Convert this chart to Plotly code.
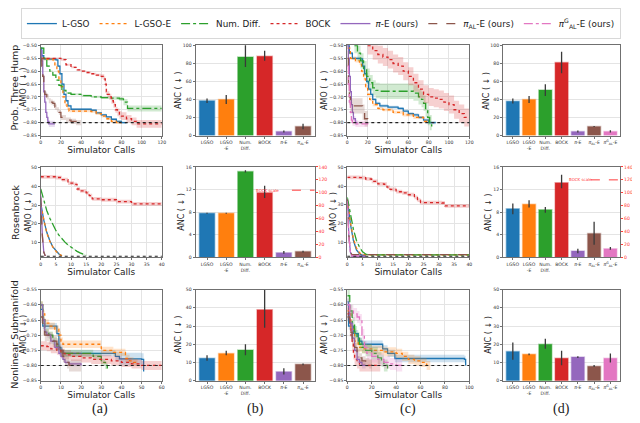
import plotly.graph_objects as go

# ---------------- curves: (simulator calls, mean AMO, spread) ----------------
# Prob. Three Hump, column (a)
TH_A_LGSO = ([0, 1, 3, 15, 17, 19, 21, 23, 25, 27, 30, 50, 55, 60, 65, 70, 75, 80, 85],
             [-0.51, -0.54, -0.553, -0.556, -0.58, -0.61, -0.65, -0.69, -0.715, -0.735, -0.748,
              -0.752, -0.762, -0.77, -0.778, -0.787, -0.795, -0.80, -0.80], 0.004)
TH_A_LGSOE = ([0, 2, 12, 14, 16, 18, 20, 22, 24, 26, 28, 50, 55, 60, 65, 70, 75, 80],
              [-0.55, -0.553, -0.556, -0.575, -0.60, -0.63, -0.66, -0.70, -0.73, -0.745, -0.755,
               -0.757, -0.765, -0.775, -0.785, -0.795, -0.80, -0.80], 0.005)
TH_A_NUM = ([0, 3, 6, 9, 12, 15, 18, 21, 25, 30, 40, 50, 60, 70, 78, 82, 86, 120],
            [-0.51, -0.55, -0.58, -0.60, -0.615, -0.635, -0.655, -0.675, -0.685, -0.69, -0.695,
             -0.70, -0.703, -0.705, -0.708, -0.72, -0.745, -0.745],
            [0.003, 0.003, 0.003, 0.003, 0.003, 0.003, 0.004, 0.004, 0.004, 0.004, 0.004, 0.004,
             0.005, 0.006, 0.008, 0.012, 0.012, 0.012])
TH_A_BOCK = ([0, 20, 25, 30, 35, 40, 45, 50, 55, 60, 63, 64, 65, 66, 68, 70, 72, 74, 76, 78, 80,
              85, 90, 95, 120],
             [-0.55, -0.555, -0.575, -0.585, -0.595, -0.60, -0.605, -0.61, -0.615, -0.62, -0.63,
              -0.65, -0.68, -0.69, -0.70, -0.715, -0.73, -0.75, -0.76, -0.77, -0.775, -0.785,
              -0.795, -0.805, -0.805],
             [0.003, 0.004, 0.004, 0.004, 0.004, 0.004, 0.004, 0.004, 0.005, 0.008, 0.01, 0.012,
              0.012, 0.012, 0.012, 0.012, 0.012, 0.012, 0.015, 0.015, 0.015, 0.015, 0.015, 0.015,
              0.015])
TH_A_PIE = ([0, 1, 2, 3, 4, 5, 6, 7, 8, 14],
            [-0.52, -0.56, -0.62, -0.68, -0.72, -0.76, -0.78, -0.795, -0.805, -0.805],
            [0.003, 0.005, 0.008, 0.01, 0.01, 0.01, 0.01, 0.012, 0.012, 0.012])
TH_A_PIAL = ([0, 1, 2, 3, 4, 6, 8, 10, 12, 14, 16, 18, 20, 25, 30, 35, 40],
             [-0.55, -0.58, -0.62, -0.66, -0.69, -0.70, -0.715, -0.72, -0.725, -0.74, -0.75,
              -0.76, -0.78, -0.79, -0.795, -0.80, -0.80], 0.01)

# Prob. Three Hump, column (c)
TH_C_LGSO = ([0, 2, 5, 13, 15, 17, 19, 21, 23, 25, 28, 32, 40, 50, 55, 60, 65, 70, 75, 80, 87],
             [-0.50, -0.53, -0.55, -0.552, -0.58, -0.61, -0.64, -0.67, -0.69, -0.71, -0.725,
              -0.735, -0.74, -0.745, -0.755, -0.765, -0.77, -0.78, -0.79, -0.80, -0.80], 0.006)
TH_C_LGSOE = ([0, 3, 8, 12, 14, 16, 18, 20, 22, 25, 30, 35, 45, 55, 65, 75, 80],
              [-0.51, -0.55, -0.56, -0.57, -0.60, -0.63, -0.66, -0.69, -0.71, -0.73, -0.745,
               -0.75, -0.76, -0.77, -0.78, -0.795, -0.80], 0.006)
TH_C_NUM = ([7, 10, 13, 16, 19, 22, 25, 28, 32, 60, 65, 70, 73, 75, 77, 79, 81, 83],
            [-0.50, -0.53, -0.56, -0.59, -0.62, -0.645, -0.665, -0.675, -0.678, -0.678, -0.685,
             -0.70, -0.71, -0.725, -0.75, -0.78, -0.80, -0.815], 0.03)
TH_C_BOCK = ([20, 25, 30, 35, 40, 45, 50, 55, 60, 65, 70, 75, 80, 85, 90, 95, 100, 105, 110, 115,
              120],
             [-0.50, -0.52, -0.535, -0.545, -0.555, -0.57, -0.58, -0.60, -0.62, -0.645, -0.67,
              -0.69, -0.70, -0.705, -0.71, -0.72, -0.73, -0.75, -0.765, -0.78, -0.78], 0.035)
TH_C_PIE = ([0, 1, 2, 3, 4, 5, 6, 8, 10],
            [-0.50, -0.55, -0.62, -0.68, -0.73, -0.76, -0.785, -0.80, -0.80], 0.01)
TH_C_PIAL = ([0, 1, 2, 3, 13, 15, 17, 20],
             [-0.55, -0.65, -0.70, -0.735, -0.735, -0.76, -0.785, -0.80], 0.03)
TH_C_PIALG = ([0, 1, 2, 3, 4, 5, 8, 10, 15, 20],
              [-0.58, -0.65, -0.72, -0.76, -0.79, -0.80, -0.805, -0.805, -0.805, -0.80], 0.012)

# Rosenbrock, column (a)
RB_A_LGSO = ([0, 1, 2, 3, 4, 5, 6, 7], [31, 22, 15.5, 11, 7.8, 5.6, 4, 3.1], 0.3)
RB_A_LGSOE = ([0, 1, 2, 3, 4, 5, 6, 7], [30, 21.5, 15, 10.8, 7.6, 5.5, 4, 3.1], 0.3)
RB_A_NUM = (list(range(16)),
            [38.5, 32, 27, 23, 19.5, 16.5, 14, 12, 10.3, 8.8, 7.5, 6.4, 5.4, 4.6, 3.8, 3.2], 0.3)
RB_A_BOCK = ([0, 5, 7, 9, 11, 12, 13, 15, 16, 17, 20, 25, 30, 40],
             [45, 44.6, 43.5, 41.6, 41, 38.5, 37.5, 36.5, 35, 33.3, 32.8, 31.8, 30.6, 30.4], 1.0)
RB_A_PIE = ([0, 0.5, 1, 1.5], [35, 15, 5, 3], 0.2)
RB_A_PIAL = ([0, 0.5, 1, 1.5], [34, 14, 5, 3], 0.2)

# Rosenbrock, column (c)
RB_C_LGSO = ([0, 1, 2, 3, 4, 5, 6], [33, 20, 11, 6, 4, 3, 3], 0.3)
RB_C_LGSOE = ([0, 1, 2, 3, 4, 5, 40], [33, 21, 12, 7, 4.5, 3.4, 3.4], 0.3)
RB_C_NUM = ([0, 1, 2, 3, 4, 5, 6, 7, 40], [34, 25, 17, 11, 7.5, 5, 3.8, 3.3, 3.3], 0.3)
RB_C_BOCK = ([0, 4, 6, 8, 10, 12, 13, 14, 16, 18, 20, 22, 23, 24, 31, 32, 40],
             [44.7, 44.5, 43.8, 42.5, 41.2, 41, 39.5, 38.3, 37, 36.4, 35.4, 34, 32.5, 31.2, 31,
              29.5, 29.5], 1.0)
RB_C_PIE = ([0, 0.5, 1, 1.5, 6], [33, 14, 5, 2.6, 2.6], 0.2)
RB_C_PIAL = ([0, 0.5, 1, 1.5, 40], [33, 14, 5, 3.5, 3.5], 0.2)
RB_C_PIALG = ([0, 0.5, 1, 1.5, 5], [32, 13, 5, 2.8, 2.8], 0.2)

# Nonlinear Submanifold, column (a)
NS_A_LGSO = ([0, 1, 8, 9, 10, 11, 36, 37, 39, 50, 51],
             [-0.615, -0.67, -0.695, -0.74, -0.75, -0.76, -0.76, -0.77, -0.778, -0.78, -0.82],
             [0.005, 0.01, 0.01, 0.01, 0.01, 0.01, 0.01, 0.015, 0.02, 0.02, 0.02])
NS_A_LGSOE = ([0, 1, 2, 4, 7, 9, 10, 11, 28, 30, 36, 42, 44, 46, 48],
              [-0.60, -0.63, -0.66, -0.67, -0.68, -0.70, -0.72, -0.73, -0.73, -0.75, -0.757,
               -0.777, -0.785, -0.79, -0.795], 0.012)
NS_A_NUM = ([0, 1, 2, 4, 6, 8, 9, 10, 25, 26, 30, 32, 33],
            [-0.60, -0.65, -0.69, -0.70, -0.72, -0.74, -0.75, -0.76, -0.76, -0.77, -0.79, -0.80,
             -0.81], 0.012)
NS_A_BOCK = ([0, 3, 5, 8, 10, 12, 15, 20, 25, 30, 35, 40, 45, 50, 60],
             [-0.735, -0.738, -0.745, -0.75, -0.76, -0.765, -0.77, -0.775, -0.78, -0.78, -0.785,
              -0.79, -0.795, -0.80, -0.80], 0.015)
NS_A_PIE = ([0, 1, 2, 3, 5, 7, 9, 10, 11, 12, 14, 20],
            [-0.60, -0.65, -0.69, -0.70, -0.72, -0.74, -0.76, -0.77, -0.78, -0.79, -0.795, -0.80],
            0.008)
NS_A_PIAL = ([0, 1, 2, 4, 6, 8, 10, 11, 12, 13, 14, 20],
             [-0.64, -0.68, -0.70, -0.71, -0.72, -0.73, -0.75, -0.77, -0.78, -0.79, -0.80, -0.80],
             0.02)

# Nonlinear Submanifold, column (c)
NS_C_LGSO = ([0, 1, 5, 9, 12, 27, 29, 33, 39, 96, 97],
             [-0.59, -0.67, -0.695, -0.72, -0.73, -0.73, -0.745, -0.76, -0.777, -0.78, -0.80],
             0.012)
NS_C_LGSOE = ([0, 3, 6, 9, 12, 20, 30, 40, 45, 50, 55, 60, 65, 68],
              [-0.62, -0.68, -0.72, -0.74, -0.745, -0.75, -0.755, -0.76, -0.77, -0.78, -0.785,
               -0.79, -0.80, -0.80], 0.015)
NS_C_NUM = ([0, 2, 4, 6, 8, 10, 12, 15, 20, 25, 28, 30, 33],
            [-0.57, -0.62, -0.66, -0.69, -0.71, -0.73, -0.74, -0.75, -0.76, -0.775, -0.785, -0.80,
             -0.81], 0.02)
NS_C_BOCK = ([0, 2, 3, 4, 5, 6, 8, 10, 15, 20, 27],
             [-0.63, -0.66, -0.70, -0.73, -0.76, -0.78, -0.79, -0.80, -0.80, -0.80, -0.80], 0.02)
NS_C_PIE = ([0, 2, 4, 6, 8, 10, 12, 15],
            [-0.60, -0.66, -0.71, -0.75, -0.78, -0.79, -0.80, -0.80], 0.01)
NS_C_PIAL = ([0, 2, 4, 6, 8, 10, 12, 15, 18, 20],
             [-0.64, -0.69, -0.72, -0.74, -0.76, -0.775, -0.785, -0.79, -0.795, -0.80], 0.015)
NS_C_PIALG = ([0, 2, 5, 8, 10, 12, 14, 16, 20, 25, 30, 35, 40, 45],
              [-0.60, -0.62, -0.63, -0.64, -0.65, -0.70, -0.74, -0.76, -0.77, -0.78, -0.79,
               -0.795, -0.80, -0.80], 0.02)

# optimum levels (black dotted reference lines)
OPT_TH = -0.80
OPT_RB_A = 2.8
OPT_RB_C = 2.6
OPT_NS = -0.80

# ---------------- ANC bars: mean, lower, upper ----------------
BAR_KEYS_6 = ["lgso", "lgsoe", "num", "bock", "pie", "pial"]
BAR_KEYS_7 = BAR_KEYS_6 + ["pialg"]
BAR_LABELS_6 = ["LGSO", "LGSO<br>-E", "Num.<br>Diff.", "BOCK", "<i>π</i>-E", "<i>π</i><sub>AL</sub>-E"]
BAR_LABELS_7 = BAR_LABELS_6 + ["<i>π</i><sup>G</sup><sub>AL</sub>-E"]

TH_B_ANC = [38.5, 40, 87, 88, 4.5, 10]
TH_B_LO = [36, 35, 76, 83, 3.5, 7]
TH_B_HI = [41, 45, 101, 94, 5.5, 13]
TH_D_ANC = [38, 40, 50.5, 81, 4.5, 10, 4.5]
TH_D_LO = [35.5, 36, 44, 69, 3.5, 9.5, 3.3]
TH_D_HI = [41, 44, 57, 93, 5.5, 10.5, 5.8]
# Rosenbrock: BOCK is given on its own (right, red) scale
RB_B_ANC = [7.8, 7.8, 15.2, 100.0, 0.8, 1.0]
RB_B_LO = [7.7, 7.7, 15.0, 92, 0.6, 0.85]
RB_B_HI = [7.9, 7.9, 15.4, 111, 1.1, 1.15]
RB_D_ANC = [8.6, 9.4, 8.4, 115.5, 1.1, 4.2, 1.5]
RB_D_LO = [7.6, 8.8, 7.9, 107, 0.7, 2.2, 1.3]
RB_D_HI = [9.5, 10.1, 8.9, 128, 1.5, 6.3, 1.8]
RB_BOCK_SCALE = [104, 120]
NS_B_ANC = [12.3, 15, 16.8, 39, 5, 9]
NS_B_LO = [11, 14, 14, 29, 3.5, 8.5]
NS_B_HI = [14, 16.5, 20, 50, 6.8, 9.5]
NS_D_ANC = [16, 14.5, 20, 12.3, 13, 8, 12.3]
NS_D_LO = [11.5, 14, 17.5, 8.5, 12.5, 7.5, 10]
NS_D_HI = [21, 15, 23, 16.5, 13.5, 8.6, 15]

METHODS = {
    "lgso": ("L-GSO", "#1f77b4", "solid"),
    "lgsoe": ("L-GSO-E", "#ff7f0e", "dot"),
    "num": ("Num. Diff.", "#2ca02c", "dashdot"),
    "bock": ("BOCK", "#d62728", "dot"),
    "pie": ("<i>π</i>-E (ours)", "#9467bd", "solid"),
    "pial": ("<i>π</i><sub>AL</sub>-E (ours)", "#8c564b", "dash"),
    "pialg": ("<i>π</i><sup>G</sup><sub>AL</sub>-E (ours)", "#e377c2", "dashdot"),
}

# the page puts the figure 8px in from the window's corner
OFF = 8
W, H = 640 - OFF, 423 - OFF
COL_PX = [(40, 162), (196, 316), (349, 472), (506, 624)]
ROW_PX = [(41, 133), (165, 257), (290, 383)]
FONT = "DejaVu Sans"
TICK = 4.6
SEEN = set()


def fx(px):
    return (px - OFF) / W


def fy(py):
    return 1 - (py - OFF) / H


def sfx(n):
    return "" if n == 1 else str(n)


def rgba(hexcol, a):
    h = hexcol.lstrip("#")
    return "rgba(%d,%d,%d,%.2f)" % (int(h[0:2], 16), int(h[2:4], 16), int(h[4:6], 16), a)


def add_curve(fig, n, key, curve, shape="hv"):
    name, color, dash = METHODS[key]
    xs, ys, sd = curve
    sds = sd if isinstance(sd, list) else [sd] * len(xs)
    ax = dict(xaxis="x" + sfx(n), yaxis="y" + sfx(n), hoverinfo="skip")
    fig.add_trace(go.Scatter(x=xs, y=[y + s for y, s in zip(ys, sds)], mode="lines",
                             line=dict(width=0, shape=shape), showlegend=False, **ax))
    fig.add_trace(go.Scatter(x=xs, y=[y - s for y, s in zip(ys, sds)], mode="lines",
                             line=dict(width=0, shape=shape), fill="tonexty",
                             fillcolor=rgba(color, 0.22), showlegend=False, **ax))
    show = key not in SEEN
    SEEN.add(key)
    fig.add_trace(go.Scatter(x=xs, y=ys, mode="lines", name=name, showlegend=show,
                             line=dict(color=color, width=1.3, dash=dash, shape=shape), **ax))


def add_bars(fig, n, keys, vals, lo, hi, right=None):
    for j, key in enumerate(keys):
        color = METHODS[key][1]
        yax = f"y{right}" if (right and key == "bock") else "y" + sfx(n)
        fig.add_trace(go.Bar(
            x=[j], y=[vals[j]], width=0.8, xaxis="x" + sfx(n), yaxis=yax, showlegend=False,
            marker=dict(color=color, line=dict(color=rgba(color, 0.35), width=1.5)),
            error_y=dict(type="data", symmetric=False, array=[hi[j] - vals[j]],
                         arrayminus=[vals[j] - lo[j]], color="#3a3a3a", thickness=1.3, width=0)))


def opt_line(fig, n, level):
    fig.add_shape(type="line", xref="x" + sfx(n) + " domain", x0=0, x1=1, yref="y" + sfx(n),
                  y0=level, y1=level, line=dict(color="#222", width=1.1, dash="dot"))


fig = go.Figure()

# row 1: Prob. Three Hump
for key, c in zip(["lgso", "lgsoe", "num", "bock", "pie", "pial"],
                  [TH_A_LGSO, TH_A_LGSOE, TH_A_NUM, TH_A_BOCK, TH_A_PIE, TH_A_PIAL]):
    add_curve(fig, 1, key, c)
opt_line(fig, 1, OPT_TH)
add_bars(fig, 2, BAR_KEYS_6, TH_B_ANC, TH_B_LO, TH_B_HI)
for key, c in zip(BAR_KEYS_7, [TH_C_LGSO, TH_C_LGSOE, TH_C_NUM, TH_C_BOCK, TH_C_PIE, TH_C_PIAL,
                               TH_C_PIALG]):
    add_curve(fig, 3, key, c)
opt_line(fig, 3, OPT_TH)
add_bars(fig, 4, BAR_KEYS_7, TH_D_ANC, TH_D_LO, TH_D_HI)

# row 2: Rosenbrock
for key, c in zip(["lgso", "lgsoe", "num", "bock", "pie", "pial"],
                  [RB_A_LGSO, RB_A_LGSOE, RB_A_NUM, RB_A_BOCK, RB_A_PIE, RB_A_PIAL]):
    add_curve(fig, 5, key, c, "hv" if key == "bock" else "linear")
opt_line(fig, 5, OPT_RB_A)
add_bars(fig, 6, BAR_KEYS_6, RB_B_ANC, RB_B_LO, RB_B_HI, right=13)
for key, c in zip(BAR_KEYS_7, [RB_C_LGSO, RB_C_LGSOE, RB_C_NUM, RB_C_BOCK, RB_C_PIE, RB_C_PIAL,
                               RB_C_PIALG]):
    add_curve(fig, 7, key, c, "hv" if key == "bock" else "linear")
opt_line(fig, 7, OPT_RB_C)
add_bars(fig, 8, BAR_KEYS_7, RB_D_ANC, RB_D_LO, RB_D_HI, right=14)

# row 3: Nonlinear Submanifold
for key, c in zip(["lgso", "lgsoe", "num", "bock", "pie", "pial"],
                  [NS_A_LGSO, NS_A_LGSOE, NS_A_NUM, NS_A_BOCK, NS_A_PIE, NS_A_PIAL]):
    add_curve(fig, 9, key, c)
opt_line(fig, 9, OPT_NS)
add_bars(fig, 10, BAR_KEYS_6, NS_B_ANC, NS_B_LO, NS_B_HI)
for key, c in zip(BAR_KEYS_7, [NS_C_LGSO, NS_C_LGSOE, NS_C_NUM, NS_C_BOCK, NS_C_PIE, NS_C_PIAL,
                               NS_C_PIALG]):
    add_curve(fig, 11, key, c)
opt_line(fig, 11, OPT_NS)
add_bars(fig, 12, BAR_KEYS_7, NS_D_ANC, NS_D_LO, NS_D_HI)

# ---------------- axes ----------------
base = dict(showline=True, mirror=True, linecolor="#707070", linewidth=1, gridcolor="#e4e4e4",
            zeroline=False, ticks="outside", ticklen=2, tickcolor="#707070", tickangle=0,
            tickfont=dict(family=FONT, size=TICK, color="#333"))
line_x = {1: (0, 120, 20), 3: (0, 120, 20), 5: (0, 40, 5), 7: (0, 40, 5), 9: (0, 60, 10),
          11: (0, 100, 20)}
line_y = {1: [-0.8505, -0.4995], 3: [-0.8505, -0.4995], 5: [2.3, 50.2], 7: [2.1, 50.2],
          9: [-0.8505, -0.5495], 11: [-0.8505, -0.5495]}
bar_y = {2: (100, 20), 4: (100, 20), 6: (16, 4), 8: (16, 4), 10: (50, 10), 12: (50, 10)}

layout = {}
for r, (top, bot) in enumerate(ROW_PX):
    for c, (left, rgt) in enumerate(COL_PX):
        n = r * 4 + c + 1
        xa = dict(base, domain=[fx(left), fx(rgt)], anchor="y" + sfx(n))
        ya = dict(base, domain=[fy(bot), fy(top)], anchor="x" + sfx(n))
        if n in line_x:
            x0, x1, dt = line_x[n]
            xa.update(range=[x0, x1 + 0.001], dtick=dt, tick0=0,
                      title=dict(text="Simulator Calls", standoff=1,
                                 font=dict(family=FONT, size=9, color="#222")))
            ya.update(range=line_y[n])
            if n in (5, 7):
                ya.update(tickvals=[10, 20, 30, 40, 50])
            else:
                ya.update(dtick=0.05, tick0=-0.85, tickformat=".2f")
        else:
            nb = 6 if c == 1 else 7
            xa.update(range=[-0.6, nb - 0.4], tickvals=list(range(nb)),
                      ticktext=BAR_LABELS_6 if nb == 6 else BAR_LABELS_7, showgrid=False)
            top_v, dt = bar_y[n]
            ya.update(range=[0, top_v], dtick=dt)
        layout["xaxis" + sfx(n)] = xa
        layout["yaxis" + sfx(n)] = ya

for n, sec in ((6, 13), (8, 14)):
    layout[f"yaxis{sec}"] = dict(overlaying=f"y{n}", anchor=f"x{n}", side="right",
                                 range=[0, 140], dtick=20, showgrid=False, zeroline=False,
                                 showline=False, ticks="outside", ticklen=2, tickcolor="#ff3b3b",
                                 tickfont=dict(family=FONT, size=TICK, color="#ff3b3b"))

fig.update_layout(**layout)

# BOCK scale markers on the Rosenbrock ANC panels
for n, sec, tx, lx, lvl in ((6, 13, 0.72, 0.81, RB_BOCK_SCALE[0]),
                            (8, 14, 0.66, 0.75, RB_BOCK_SCALE[1])):
    fig.add_annotation(xref=f"x{n} domain", yref=f"y{sec}", x=tx, y=lvl, text="BOCK scale",
                       showarrow=False, font=dict(family=FONT, size=4, color="#ff3b3b"))
    fig.add_shape(type="line", xref=f"x{n} domain", yref=f"y{sec}", x0=lx, x1=1, y0=lvl, y1=lvl,
                  line=dict(color="#ff3b3b", width=1, dash="dash"))

# y titles and row names
ann = []
for (px, py, txt, size) in [
        (14, 84, "Prob. Three Hump", 9.5), (22.5, 84, "AMO ( ↓ )", 8),
        (14, 211, "Rosenbrock", 9.5), (27, 211, "AMO ( ↓ )", 8),
        (14, 336, "Nonlinear Submanifold", 9.5), (22.5, 336, "AMO ( ↓ )", 8),
        (326, 87, "AMO ( ↓ )", 8), (335, 211, "AMO ( ↓ )", 8), (326, 336, "AMO ( ↓ )", 8),
        (179, 87, "ANC ( ↓ )", 8), (181, 211, "ANC ( ↓ )", 8), (179, 336, "ANC ( ↓ )", 8),
        (489, 87, "ANC ( ↓ )", 8), (491, 211, "ANC ( ↓ )", 8), (491, 336, "ANC ( ↓ )", 8)]:
    ann.append(dict(xref="paper", yref="paper", x=fx(px), y=fy(py), text=txt, textangle=-90,
                    xanchor="center", yanchor="middle", showarrow=False,
                    font=dict(family=FONT, size=size, color="#222")))
for px, txt in ((100, "(a)"), (256, "(b)"), (410, "(c)"), (565, "(d)")):
    ann.append(dict(xref="paper", yref="paper", x=fx(px), y=fy(412), text=txt,
                    xanchor="center", yanchor="middle", showarrow=False,
                    font=dict(family="Liberation Serif", size=14, color="#222")))
for a in ann:
    fig.add_annotation(**a)

fig.update_layout(
    width=W, height=H, autosize=False, margin=dict(l=0, r=0, t=0, b=0),
    paper_bgcolor="white", plot_bgcolor="white", barmode="overlay",
    font=dict(family=FONT, color="#222"),
    legend=dict(orientation="h", x=fx(20), xanchor="left", y=fy(3), yanchor="top",
                traceorder="normal", bordercolor="#d8d8d8", borderwidth=1,
                font=dict(family=FONT, size=8.8, color="#222"), tracegroupgap=0),
)

fig.write_html("out.html")
